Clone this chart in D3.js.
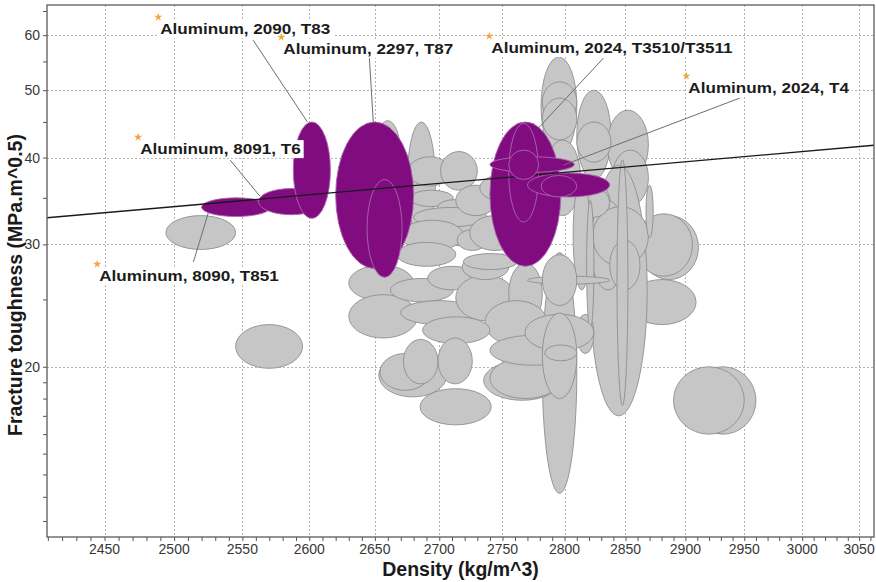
<!DOCTYPE html>
<html>
<head>
<meta charset="utf-8">
<script src="https://cdn.jsdelivr.net/npm/d3@7"></script>
<style>
  html, body { margin: 0; padding: 0; background: #fff; }
  svg { display: block; font-family: "Liberation Sans", Arial, sans-serif; }
</style>
</head>
<body>
<svg id="chart" width="876" height="582"></svg>
<script>
// Density (kg/m^3) and fracture toughness (MPa.m^0.5) axes
const densityTicks = [2450, 2500, 2550, 2600, 2650, 2700, 2750, 2800, 2850, 2900, 2950, 3000, 3050];
const toughnessTicks = [20, 30, 40, 50, 60];
const toughnessMinor = [12, 13, 14, 15, 16, 17, 18, 19, 25, 35, 45, 55, 65];

// Material property ranges: [density low, density high, toughness low, toughness high]
const otherAlloys = [
  [2494, 2545, 29.5, 33.0],
  [2545, 2595, 19.9, 23.0],
  [2904, 2960, 16.0, 20.0],
  [2890, 2950, 16.0, 20.0],
  [2852, 2909, 23.0, 26.7],
  [2862, 2911, 26.7, 33.0],
  [2858, 2906, 27.0, 33.2],
  [2781, 2810, 40.3, 55.8],
  [2782, 2810, 45.0, 51.4],
  [2782, 2810, 42.4, 48.7],
  [2810, 2838, 37.2, 50.0],
  [2835, 2869, 37.2, 46.8],
  [2810, 2838, 39.4, 45.0],
  [2839, 2869, 34.1, 41.0],
  [2810, 2839, 28.5, 37.7],
  [2784, 2813, 33.0, 42.4],
  [2821, 2868, 17.0, 39.0],
  [2810, 2839, 29.0, 37.2],
  [2821, 2850, 25.8, 34.7],
  [2823, 2869, 27.9, 34.0],
  [2837, 2862, 25.8, 30.4],
  [2810, 2837, 32.8, 36.2],
  [2810, 2824, 20.9, 23.8],
  [2843, 2852, 17.6, 39.7],
  [2867, 2873, 30.7, 36.5],
  [2807, 2821, 25.8, 37.2],
  [2818, 2824, 22.6, 34.7],
  [2782, 2810, 13.15, 29.2],
  [2630, 2680, 24.9, 28.0],
  [2630, 2683, 22.0, 25.4],
  [2662, 2711, 24.8, 26.8],
  [2670, 2730, 23.0, 24.9],
  [2691, 2730, 25.8, 27.9],
  [2713, 2760, 23.3, 27.1],
  [2718, 2755, 26.7, 29.0],
  [2755, 2782, 23.0, 28.2],
  [2736, 2786, 21.5, 24.9],
  [2687, 2740, 21.6, 23.6],
  [2653, 2706, 18.1, 20.9],
  [2654, 2693, 18.5, 20.9],
  [2672, 2699, 18.9, 21.9],
  [2699, 2726, 18.9, 22.0],
  [2685, 2741, 16.5, 18.6],
  [2735, 2797, 17.9, 20.4],
  [2740, 2797, 18.0, 20.6],
  [2740, 2810, 20.1, 22.2],
  [2768, 2824, 21.1, 23.8],
  [2782, 2810, 18.0, 23.9],
  [2784, 2810, 20.4, 21.5],
  [2770, 2837, 26.3, 27.0],
  [2782, 2810, 24.5, 29.0],
  [2675, 2697, 30.4, 45.0],
  [2650, 2670, 35.9, 45.2],
  [2676, 2709, 36.4, 40.1],
  [2701, 2730, 35.9, 40.8],
  [2677, 2711, 34.0, 35.9],
  [2698, 2727, 32.8, 34.8],
  [2700, 2745, 29.8, 32.2],
  [2680, 2738, 31.8, 33.9],
  [2670, 2719, 29.4, 32.5],
  [2667, 2713, 27.9, 30.2],
  [2714, 2738, 29.4, 31.5],
  [2719, 2762, 27.6, 29.1],
  [2724, 2764, 29.4, 33.0],
  [2713, 2745, 33.0, 36.5],
  [2732, 2764, 34.7, 37.7]
];

// Highlighted aluminium-lithium and 2024 grades
const highlighted = [
  [2520, 2571, 32.9, 35.0],   // 8090 T851
  [2562, 2611, 33.1, 36.1],   // 8091 T6
  [2588, 2616, 32.7, 45.0],   // 2090 T83
  [2620, 2680, 27.7, 45.0],   // 2297 T87
  [2644, 2671, 26.9, 37.2],   // 2297 T87
  [2740, 2797, 27.9, 45.0],   // 2024 T3510/T3511
  [2755, 2779, 32.3, 44.8],   // 2024 T3510/T3511
  [2740, 2808, 38.1, 40.1],   // 2024 T4
  [2770, 2837, 35.1, 38.0],   // 2024 T4
  [2781, 2810, 35.1, 37.7]    // 2024 T4
];
const highlightedTop = [
  [2755, 2779, 37.2, 41.0]    // 2024 T3510/T3511
];

// Guide line: toughness proportional to density
const guideRatio = 0.0136;

// Annotations: label anchor (star), leader start and leader end, in data units
const labelText = [
  "Aluminum, 2090, T83",
  "Aluminum, 2297, T87",
  "Aluminum, 2024, T3510/T3511",
  "Aluminum, 2024, T4",
  "Aluminum, 8091, T6",
  "Aluminum, 8090, T851"
];
const labelAnchor = [[2488.5, 63.7], [2579, 59.6], [2739.5, 59.8], [2900.8, 52.4], [2474, 42.8], [2444.8, 28.1]];
const leaderFrom  = [[2558, 59.0], [2645.8, 55.6], [2831.8, 55.6], [2946, 48.7], [2541, 39.66], [2514, 28.3]];
const leaderTo    = [[2598.6, 45.0], [2648.8, 45.0], [2778.8, 44.1], [2799, 39.0], [2563, 35.2], [2524.9, 33.3]];

const svg = d3.select("#chart");
const W = 876, H = 582;
const m = { left: 47, right: 2, top: 5, bottom: 45 };
const pw = W - m.left - m.right, ph = H - m.top - m.bottom;

const x = d3.scaleLog().domain([2409.4, 3063.2]).range([m.left, m.left + pw]);
const y = d3.scaleLog().domain([11.38, 66.3]).range([m.top + ph, m.top]);

svg.append("defs").append("clipPath").attr("id", "plotClip")
  .append("rect").attr("x", m.left).attr("y", m.top).attr("width", pw).attr("height", ph);

// Grid
const grid = svg.append("g").attr("stroke", "#b4b4b4").attr("stroke-width", 1).attr("stroke-dasharray", "2,2");
grid.selectAll("line.v").data(densityTicks).join("line")
  .attr("x1", d => Math.round(x(d)) + 0.5).attr("x2", d => Math.round(x(d)) + 0.5)
  .attr("y1", m.top).attr("y2", m.top + ph);
grid.selectAll("line.h").data(toughnessTicks).join("line")
  .attr("y1", d => Math.round(y(d)) + 0.5).attr("y2", d => Math.round(y(d)) + 0.5)
  .attr("x1", m.left).attr("x2", m.left + pw);

const plot = svg.append("g").attr("clip-path", "url(#plotClip)");

function bubble(sel, rows) {
  return sel.selectAll(null).data(rows).join("ellipse")
    .attr("cx", d => (x(d[0]) + x(d[1])) / 2)
    .attr("cy", d => (y(d[2]) + y(d[3])) / 2)
    .attr("rx", d => Math.abs(x(d[1]) - x(d[0])) / 2)
    .attr("ry", d => Math.abs(y(d[2]) - y(d[3])) / 2);
}

bubble(plot.append("g"), otherAlloys)
  .attr("fill", "#c6c6c6").attr("stroke", "#8e8e8e").attr("stroke-width", 0.9);

bubble(plot.append("g"), highlighted)
  .attr("fill", "#810c80").attr("stroke", "#a868ab").attr("stroke-width", 0.9);

const xd = x.domain();
plot.append("line")
  .attr("x1", x(xd[0])).attr("y1", y(xd[0] * guideRatio))
  .attr("x2", x(xd[1])).attr("y2", y(xd[1] * guideRatio))
  .attr("stroke", "#1a1a1a").attr("stroke-width", 1.4);

bubble(plot.append("g"), highlightedTop)
  .attr("fill", "#810c80").attr("stroke", "#a868ab").attr("stroke-width", 0.9);

// Leader lines
svg.append("g").selectAll("line").data(labelText).join("line")
  .attr("x1", (d, i) => x(leaderFrom[i][0])).attr("y1", (d, i) => y(leaderFrom[i][1]))
  .attr("x2", (d, i) => x(leaderTo[i][0])).attr("y2", (d, i) => y(leaderTo[i][1]))
  .attr("stroke", "#6e6e6e").attr("stroke-width", 1);

// Labels with white backing
const labels = svg.append("g").selectAll("g").data(labelText).join("g")
  .attr("transform", (d, i) => `translate(${x(labelAnchor[i][0])},${y(labelAnchor[i][1])})`);
labels.each(function (d) {
  const g = d3.select(this);
  const r = g.append("rect").attr("fill", "#fff");
  const t = g.append("text").attr("x", 0).attr("y", 0)
    .attr("transform", "translate(2,16.5) scale(1.14,1)")
    .attr("font-size", 15).attr("font-weight", "bold").attr("fill", "#1c1c1c").text(d);
  const w = t.node().getComputedTextLength() * 1.14;
  r.attr("x", 0).attr("y", 3).attr("width", w + 5).attr("height", 18);
});

// Anchor stars
svg.append("g").selectAll("path").data(labelAnchor).join("path")
  .attr("d", d3.symbol(d3.symbolStar, 22))
  .attr("transform", d => `translate(${x(d[0])},${y(d[1])})`)
  .attr("fill", "#f4a646");

// Axes
const axisColor = "#555";
const xAxis = svg.append("g").attr("transform", `translate(0,${m.top + ph})`)
  .call(d3.axisBottom(x).tickValues(d3.range(2410, 3061, 10)).tickSize(4).tickFormat(""));
xAxis.select(".domain").remove();
xAxis.selectAll("line").attr("stroke", axisColor);
svg.append("g").selectAll("text").data(densityTicks).join("text")
  .attr("x", d => x(d)).attr("y", m.top + ph + 17)
  .attr("text-anchor", "middle").attr("font-size", 14).attr("fill", "#383838")
  .text(d => d);

const yAxis = svg.append("g").attr("transform", `translate(${m.left},0)`)
  .call(d3.axisLeft(y).tickValues(toughnessTicks.concat(toughnessMinor)).tickSize(4).tickFormat(""));
yAxis.select(".domain").remove();
yAxis.selectAll("line").attr("stroke", axisColor);
svg.append("g").selectAll("text").data(toughnessTicks).join("text")
  .attr("x", m.left - 7).attr("y", d => y(d) + 5)
  .attr("text-anchor", "end").attr("font-size", 14).attr("fill", "#383838")
  .text(d => d);

// Frame
svg.append("rect").attr("x", m.left).attr("y", m.top).attr("width", pw).attr("height", ph)
  .attr("fill", "none").attr("stroke", "#5a5a5a").attr("stroke-width", 1.3);

// Axis titles
svg.append("text").attr("x", m.left + pw / 2).attr("y", 576)
  .attr("text-anchor", "middle").attr("font-size", 19.5).attr("font-weight", "bold").attr("fill", "#1a1a1a")
  .text("Density (kg/m^3)");
svg.append("text").attr("transform", `translate(22,${m.top + ph / 2 + 14}) rotate(-90)`)
  .attr("text-anchor", "middle").attr("font-size", 19.5).attr("font-weight", "bold").attr("fill", "#1a1a1a")
  .text("Fracture toughness (MPa.m^0.5)");
</script>
</body>
</html>
